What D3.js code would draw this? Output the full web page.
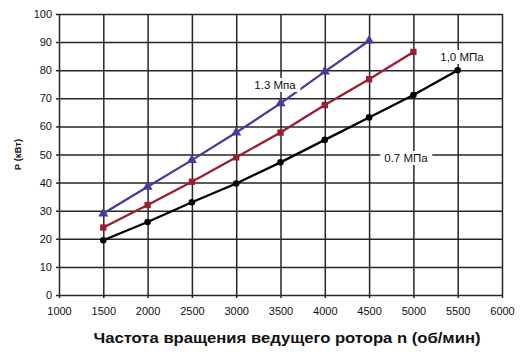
<!DOCTYPE html>
<html>
<head>
<meta charset="utf-8">
<script src="https://cdn.jsdelivr.net/npm/d3@7"></script>
<style>
  html, body { margin: 0; padding: 0; background: #fff; }
  svg { display: block; font-family: "Liberation Sans", Arial, sans-serif; }
</style>
</head>
<body>
<svg id="chart" width="520" height="359"></svg>
<script>
// Rotor speed, rpm
const speeds = [1500, 2000, 2500, 3000, 3500, 4000, 4500, 5000, 5500];
// Power, kW, for each discharge pressure
const p07 = [19.5, 26, 33, 39.7, 47.2, 55.2, 63.2, 71.2, 80];
const p10 = [24, 32, 40.3, 49, 57.8, 67.6, 76.8, 86.5];
const p13 = [29, 38.5, 48, 57.8, 68.2, 79.5, 90.5];

const xTicks = [1000, 1500, 2000, 2500, 3000, 3500, 4000, 4500, 5000, 5500, 6000];
const yTicks = [0, 10, 20, 30, 40, 50, 60, 70, 80, 90, 100];

const svg = d3.select("#chart");
const m = { left: 59, right: 18, top: 14, bottom: 64 };
const W = 520, H = 359;

const x = d3.scaleLinear().domain([1000, 6000]).range([m.left, W - m.right]);
const y = d3.scaleLinear().domain([0, 100]).range([H - m.bottom, m.top]);

const gridColor = "#262626";
const gridWidth = 1.5;

// Vertical grid
svg.append("g")
  .attr("transform", `translate(0,${y(0)})`)
  .call(d3.axisBottom(x).tickValues(xTicks).tickSize(-(y(0) - y(100))).tickSizeOuter(0).tickFormat(""))
  .call(g => g.select(".domain").remove())
  .call(g => g.selectAll("line").attr("stroke", gridColor).attr("stroke-width", gridWidth));

// Horizontal grid
svg.append("g")
  .attr("transform", `translate(${x(1000)},0)`)
  .call(d3.axisLeft(y).tickValues(yTicks).tickSize(-(x(6000) - x(1000))).tickSizeOuter(0).tickFormat(""))
  .call(g => g.select(".domain").remove())
  .call(g => g.selectAll("line").attr("stroke", gridColor).attr("stroke-width", gridWidth));

// Outward ticks and tick labels
svg.append("g")
  .attr("transform", `translate(0,${y(0)})`)
  .call(d3.axisBottom(x).tickValues(xTicks).tickSize(3).tickSizeOuter(0).tickFormat(d3.format("d")))
  .call(g => g.select(".domain").remove())
  .call(g => g.selectAll("line").attr("stroke", gridColor).attr("stroke-width", gridWidth))
  .call(g => g.selectAll("text").attr("font-size", 11).attr("fill", "#111").attr("y", 12));

svg.append("g")
  .attr("transform", `translate(${x(1000)},0)`)
  .call(d3.axisLeft(y).tickValues(yTicks).tickSize(3).tickSizeOuter(0).tickFormat(d3.format("d")))
  .call(g => g.select(".domain").remove())
  .call(g => g.selectAll("line").attr("stroke", gridColor).attr("stroke-width", gridWidth))
  .call(g => g.selectAll("text").attr("font-size", 11).attr("fill", "#111").attr("x", -7));

// Series
const series = [
  { vals: p07, color: "#000000", shape: d3.symbolCircle, size: 34 },
  { vals: p10, color: "#9a1f33", shape: d3.symbolSquare, size: 40 },
  { vals: p13, color: "#4a3a9e", shape: d3.symbolTriangle, size: 44 }
];

const line = d3.line().x(d => x(d[0])).y(d => y(d[1]));

series.forEach(s => {
  const pts = s.vals.map((v, i) => [speeds[i], v]);
  svg.append("path")
    .datum(pts)
    .attr("d", line)
    .attr("fill", "none")
    .attr("stroke", s.color)
    .attr("stroke-width", 2.3);
  svg.append("g").selectAll("path")
    .data(pts)
    .join("path")
    .attr("transform", d => `translate(${x(d[0])},${y(d[1])})`)
    .attr("d", d3.symbol().type(s.shape).size(s.size))
    .attr("fill", s.color);
});

// Curve labels with white backing
const labels = [
  { text: "1.3 Мпа", cx: 275, cy: 85 },
  { text: "1,0 МПа", cx: 462, cy: 57 },
  { text: "0.7 МПа", cx: 406, cy: 158 }
];
labels.forEach(l => {
  const g = svg.append("g");
  const t = g.append("text")
    .attr("x", l.cx).attr("y", l.cy)
    .attr("text-anchor", "middle")
    .attr("dominant-baseline", "central")
    .attr("font-size", 11.5)
    .attr("fill", "#111")
    .text(l.text);
  const b = t.node().getBBox();
  g.insert("rect", "text")
    .attr("x", b.x - 4).attr("y", b.y - 1)
    .attr("width", b.width + 8).attr("height", b.height + 2)
    .attr("fill", "#fff");
});

// Axis titles
svg.append("text")
  .attr("transform", `translate(17,${(y(0) + y(100)) / 2}) rotate(-90)`)
  .attr("text-anchor", "middle")
  .attr("dominant-baseline", "central")
  .attr("font-size", 9.5)
  .attr("font-weight", "bold")
  .attr("fill", "#111")
  .text("P (кВт)");

svg.append("text")
  .attr("x", 287).attr("y", 338)
  .attr("text-anchor", "middle")
  .attr("dominant-baseline", "central")
  .attr("font-size", 14.5)
  .attr("font-weight", "bold")
  .attr("fill", "#111")
  .attr("textLength", 387)
  .attr("lengthAdjust", "spacingAndGlyphs")
  .text("Частота вращения  ведущего ротора n (об/мин)");
</script>
</body>
</html>
